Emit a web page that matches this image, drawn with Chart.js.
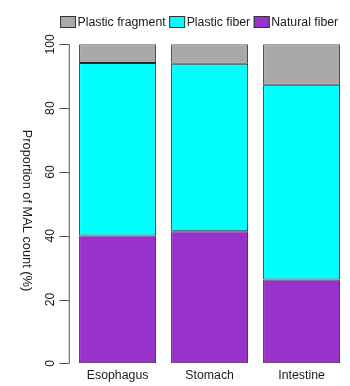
<!DOCTYPE html>
<html>
<head>
<meta charset="utf-8">
<script src="https://cdn.jsdelivr.net/npm/chart.js@4.4.1/dist/chart.umd.min.js"></script>
<style>
  html, body { margin: 0; padding: 0; background: #ffffff; }
  #wrap { width: 350px; height: 386px; }
</style>
</head>
<body>
<div id="wrap"><canvas id="c" width="350" height="386"></canvas></div>
<script>
// Proportion of MAL count (%) per gut section
const sections = ['Esophagus', 'Stomach', 'Intestine'];
const naturalFiber = [40.1, 41.4, 26.3];
const plasticFiber = [54.0, 52.5, 61.0];
const plasticFragment = [5.9, 6.1, 12.7];
const yTicks = [0, 20, 40, 60, 80, 100];
const yTitle = 'Proportion of MAL count (%)';

const FONT = '"Liberation Sans", Arial, sans-serif';
const AXIS_COLOR = '#555555';
const TEXT_COLOR = '#1a1a1a';

// R-style left axis: line spanning the data range, outward ticks, rotated labels
const yAxisPlugin = {
  id: 'rAxis',
  afterDraw(chart) {
    const ctx = chart.ctx;
    const y = chart.scales.y;
    const axisX = chart.chartArea.left - 2.3;
    ctx.save();
    ctx.strokeStyle = AXIS_COLOR;
    ctx.lineWidth = 1;
    ctx.beginPath();
    ctx.moveTo(axisX, y.getPixelForValue(yTicks[0]));
    ctx.lineTo(axisX, y.getPixelForValue(yTicks[yTicks.length - 1]));
    yTicks.forEach(v => {
      const py = Math.round(y.getPixelForValue(v)) + 0.5;
      ctx.moveTo(axisX, py);
      ctx.lineTo(axisX - 10, py);
    });
    ctx.stroke();

    ctx.fillStyle = TEXT_COLOR;
    ctx.font = '12.3px ' + FONT;
    ctx.textAlign = 'center';
    ctx.textBaseline = 'middle';
    yTicks.forEach(v => {
      ctx.save();
      ctx.translate(51, y.getPixelForValue(v));
      ctx.rotate(-Math.PI / 2);
      ctx.fillText(String(v), 0, 0);
      ctx.restore();
    });

    // axis title, reading top to bottom
    ctx.font = '12.8px ' + FONT;
    ctx.save();
    ctx.translate(26.5, 210.5);
    ctx.rotate(Math.PI / 2);
    ctx.fillText(yTitle, 0, 0);
    ctx.restore();
    ctx.restore();
  }
};

// Legend row along the top, stacked order reversed (top segment first)
const legendPlugin = {
  id: 'topLegend',
  afterDraw(chart) {
    const ctx = chart.ctx;
    const items = chart.data.datasets.slice().reverse();
    ctx.save();
    ctx.font = '12.3px ' + FONT;
    ctx.textBaseline = 'middle';
    ctx.textAlign = 'left';
    let x = 60;
    const boxY = 16, boxW = 16, boxH = 12;
    items.forEach(ds => {
      ctx.fillStyle = ds.backgroundColor;
      ctx.fillRect(x, boxY, boxW, boxH);
      ctx.strokeStyle = '#333333';
      ctx.lineWidth = 1;
      ctx.strokeRect(x + 0.5, boxY + 0.5, boxW - 1, boxH - 1);
      ctx.fillStyle = TEXT_COLOR;
      ctx.fillText(ds.label, x + boxW + 1.5, boxY + boxH / 2 + 0.5);
      x += boxW + 1.5 + ctx.measureText(ds.label).width + 3.5;
    });
    ctx.restore();
  }
};

const seg = (label, data, color) => ({
  label,
  data,
  backgroundColor: color,
  borderColor: '#2a2a2a',
  borderWidth: 1,
  borderSkipped: false,
  categoryPercentage: 1.0,
  barPercentage: 0.837
});

new Chart(document.getElementById('c'), {
  type: 'bar',
  data: {
    labels: sections,
    datasets: [
      seg('Natural fiber', naturalFiber, '#9932CC'),
      seg('Plastic fiber', plasticFiber, '#00FFFF'),
      seg('Plastic fragment', plasticFragment, '#A9A9A9')
    ]
  },
  options: {
    responsive: false,
    animation: false,
    devicePixelRatio: 1,
    layout: { padding: { top: 44.3, left: 71.6, right: 2.4, bottom: 0 } },
    plugins: {
      legend: { display: false },
      tooltip: { enabled: false }
    },
    scales: {
      x: {
        stacked: true,
        offset: true,
        grid: { display: false, drawTicks: false },
        border: { display: false },
        ticks: {
          color: TEXT_COLOR,
          font: { family: FONT, size: 12.3 },
          padding: 5
        },
        afterFit(scale) { scale.height = 22.7; }
      },
      y: {
        stacked: true,
        display: false,
        min: 0,
        max: 100
      }
    }
  },
  plugins: [yAxisPlugin, legendPlugin]
});
</script>
</body>
</html>
